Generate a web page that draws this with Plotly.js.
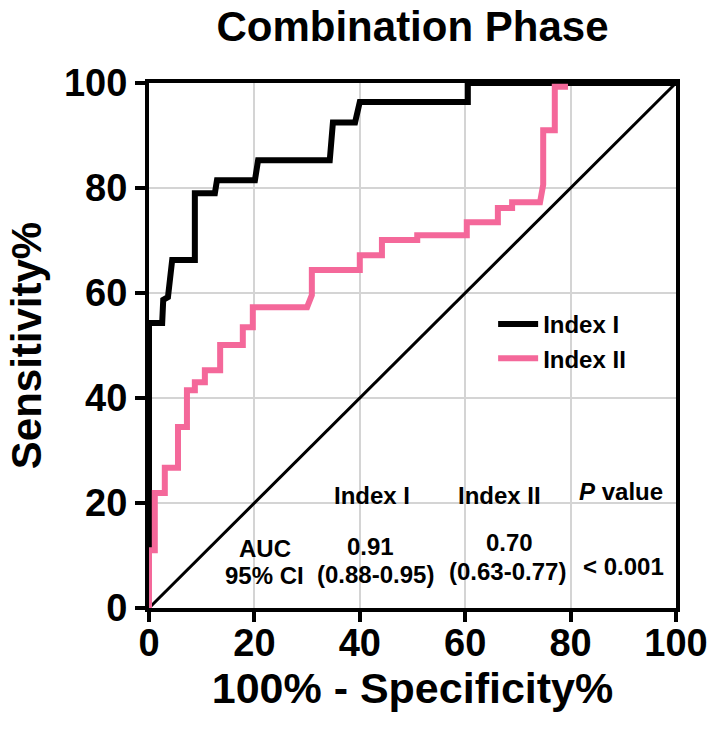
<!DOCTYPE html>
<html>
<head>
<meta charset="utf-8">
<script src="https://cdn.plot.ly/plotly-3.0.1.min.js"></script>
<style>html,body{margin:0;padding:0;background:#fff;}#chart{width:710px;height:741px;}</style>
</head>
<body>
<div id="chart"></div>
<script>
// Index I ROC curve (100% - Specificity%, Sensitivity%)
const index1X = [0, 0, 2.5, 2.7, 3.6, 4.4, 8.7, 8.7, 12.5, 12.9, 20.1, 20.7, 34.3, 34.9, 39.1, 40.0, 60.5, 60.5, 100];
const index1Y = [0, 54.3, 54.3, 58.7, 59.2, 66.3, 66.3, 79.0, 79.0, 81.5, 81.5, 85.3, 85.3, 92.5, 92.5, 96.4, 96.4, 100, 100];
// Index II ROC curve
const index2X = [0, 0, 1.1, 1.1, 3.0, 3.0, 5.5, 5.5, 7.2, 7.2, 8.7, 8.7, 10.6, 10.6, 13.5, 13.5, 17.8, 17.8, 19.7, 19.7, 30.0, 30.9, 30.9, 40.0, 40.0, 44.2, 44.2, 50.9, 50.9, 60.3, 60.3, 66.2, 66.2, 68.9, 68.9, 74.2, 74.8, 74.8, 77.0, 77.0, 79.5];
const index2Y = [0, 11.0, 11.0, 21.9, 21.9, 26.7, 26.7, 34.5, 34.5, 41.5, 41.5, 43.0, 43.0, 45.3, 45.3, 50.1, 50.1, 53.5, 53.5, 57.3, 57.3, 59.6, 64.4, 64.4, 67.2, 67.2, 70.1, 70.1, 71.0, 71.0, 73.5, 73.5, 76.2, 76.2, 77.3, 77.3, 80.6, 91.0, 91.0, 99.3, 99.3];
// reference line
const refX = [0, 100];
const refY = [0, 100];
const tickVals = [0, 20, 40, 60, 80, 100];
const tickText = ["0", "20", "40", "60", "80", "100"];
const seriesNames = ["Index I", "Index II"];
const aucValues = ["0.91", "0.70"];
const ciValues = ["(0.88-0.95)", "(0.63-0.77)"];
const pValue = "< 0.001";

const FONT = "Liberation Sans, Arial, Helvetica, sans-serif";
const PINK = "#F4689A";

const traces = [
  {x: refX, y: refY, mode: "lines", line: {color: "#000", width: 3}, showlegend: false, hoverinfo: "skip"},
  {x: index1X, y: index1Y, mode: "lines", name: seriesNames[0], line: {color: "#000", width: 6}},
  {x: index2X, y: index2Y, mode: "lines", name: seriesNames[1], line: {color: PINK, width: 6}}
];

const annFont = {family: FONT, size: 24, color: "#000", weight: "bold"};
function ann(text, x, y) {
  return {text: text, x: x, y: y, xref: "x", yref: "y", showarrow: false, font: annFont, xanchor: "center", yanchor: "middle"};
}
const annotations = [
  ann(seriesNames[0], 42.3, 21.5),
  ann(seriesNames[1], 66.6, 21.5),
  ann("<i>P</i> value", 89.6, 22.1),
  ann("AUC", 22, 11.4),
  ann("95% CI", 22, 6.1),
  ann(aucValues[0], 42, 11.8),
  ann(ciValues[0], 42.9, 6.3),
  ann(aucValues[1], 68.5, 12.4),
  ann(ciValues[1], 68, 6.9),
  ann(pValue, 90, 8.0)
];

const axisCommon = {
  range: [0, 100],
  tickvals: tickVals,
  ticktext: tickText,
  showgrid: true,
  gridcolor: "#d4d4d4",
  gridwidth: 2,
  zeroline: false,
  showline: true,
  linecolor: "#000",
  linewidth: 4,
  mirror: true,
  ticks: "outside",
  ticklen: 10,
  tickwidth: 4,
  tickcolor: "#000",
  tickfont: {family: FONT, size: 38, color: "#000", weight: "bold"},
  fixedrange: true
};

const layout = {
  width: 710,
  height: 741,
  paper_bgcolor: "#fff",
  plot_bgcolor: "#fff",
  margin: {l: 149, r: 34, t: 83, b: 133},
  title: {text: "Combination Phase", x: 0.5, xref: "paper", y: 0.965, yref: "container", yanchor: "middle",
          font: {family: FONT, size: 42, color: "#000", weight: "bold"}},
  xaxis: Object.assign({}, axisCommon, {
    ticklabelstandoff: -12,
    title: {text: "100% - Specificity%", standoff: 4, font: {family: FONT, size: 43, color: "#000", weight: "bold"}}
  }),
  yaxis: Object.assign({}, axisCommon, {
    title: {text: "Sensitivity%", standoff: 10, font: {family: FONT, size: 42, color: "#000", weight: "bold"}}
  }),
  legend: {x: 0.653, y: 0.583, xanchor: "left", yanchor: "top", bgcolor: "rgba(0,0,0,0)", itemwidth: 40,
           font: {family: FONT, size: 24, color: "#000", weight: "bold"}, tracegroupgap: 0},
  annotations: annotations,
  showlegend: true
};

Plotly.newPlot("chart", traces, layout, {displayModeBar: false, staticPlot: true});
</script>
</body>
</html>
